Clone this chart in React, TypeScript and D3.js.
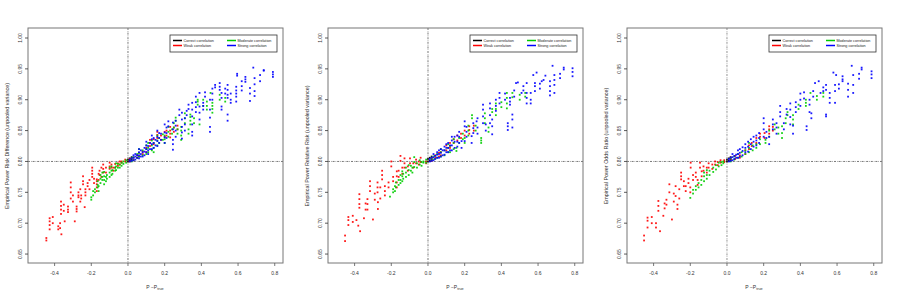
import React, { useEffect, useRef } from "react";
import * as d3 from "d3";

const xTicks = [-0.4, -0.2, 0.0, 0.2, 0.4, 0.6, 0.8];
const yTicks = [0.65, 0.7, 0.75, 0.8, 0.85, 0.9, 0.95, 1.0];

const yTitles = [
  "Empirical Power Risk Difference  (unpooled variance)",
  "Empirical Power Relative Risk  (unpooled variance)",
  "Empirical Power Odds Ratio  (unpooled variance)",
];

const legendItems = [
  { label: "Correct correlation", color: "#000000", col: 0, row: 0 },
  { label: "Weak correlation", color: "#ff0000", col: 0, row: 1 },
  { label: "Moderate correlation", color: "#00cd00", col: 1, row: 0 },
  { label: "Strong correlation", color: "#0000ff", col: 1, row: 1 },
];

// each column: [x, y1, y2, ...]
const rdCorrect = [[0, 0.8, 0.803], [0.01, 0.801, 0.805], [0.02, 0.803, 0.807]];
const rdWeak = [
  [-0.445, 0.672, 0.676], [-0.427, 0.69, 0.697, 0.703, 0.708], [-0.38, 0.69, 0.695],
  [-0.37, 0.692, 0.7], [-0.363, 0.682], [-0.365, 0.715, 0.722, 0.728, 0.735],
  [-0.345, 0.703], [-0.327, 0.718, 0.722, 0.727], [-0.312, 0.74, 0.75, 0.758, 0.766],
  [-0.29, 0.703], [-0.28, 0.719, 0.723, 0.727], [-0.27, 0.742, 0.745, 0.75],
  [-0.255, 0.74, 0.745], [-0.245, 0.763, 0.768, 0.776], [-0.236, 0.726],
  [-0.232, 0.745, 0.75, 0.755], [-0.22, 0.76, 0.765], [-0.195, 0.775, 0.78, 0.785, 0.79],
  [-0.17, 0.752, 0.758, 0.763, 0.768, 0.771], [-0.155, 0.778, 0.785],
  [-0.135, 0.782, 0.788, 0.795], [-0.1, 0.788, 0.792, 0.798], [-0.08, 0.785, 0.79],
  [-0.055, 0.793, 0.797], [-0.035, 0.798, 0.8], [-0.015, 0.8, 0.803],
  [-0.41, 0.7, 0.71], [-0.35, 0.72, 0.73], [-0.3, 0.735, 0.745], [-0.26, 0.735, 0.755],
  [-0.21, 0.755, 0.77], [-0.185, 0.765, 0.772], [-0.16, 0.77, 0.78], [-0.145, 0.775, 0.79],
  [-0.12, 0.782, 0.79], [-0.09, 0.79, 0.795], [-0.07, 0.79, 0.796], [-0.045, 0.795, 0.8],
  [0.01, 0.8, 0.804], [0.03, 0.802, 0.806], [0.05, 0.806, 0.81], [0.06, 0.808, 0.814],
  [0.08, 0.812, 0.816], [0.1, 0.815, 0.822], [0.12, 0.825, 0.83, 0.835], [0.14, 0.828, 0.836],
  [0.16, 0.838, 0.843, 0.848], [0.18, 0.835, 0.842], [0.2, 0.84, 0.848], [0.21, 0.842, 0.85],
  [0.23, 0.839, 0.845, 0.85, 0.856], [0.25, 0.848, 0.855], [0.27, 0.852, 0.858],
];
const rdModerate = [
  [-0.2, 0.738, 0.742], [-0.19, 0.745, 0.752], [-0.18, 0.75, 0.755], [-0.165, 0.758, 0.762, 0.768],
  [-0.16, 0.752, 0.76], [-0.15, 0.765, 0.772, 0.778], [-0.14, 0.77, 0.775, 0.782],
  [-0.13, 0.763, 0.77, 0.776, 0.783], [-0.12, 0.768, 0.775], [-0.115, 0.772, 0.778],
  [-0.1, 0.775, 0.782, 0.79], [-0.09, 0.778, 0.785, 0.792], [-0.085, 0.78, 0.786],
  [-0.07, 0.785, 0.79], [-0.065, 0.786, 0.792, 0.797], [-0.055, 0.79, 0.796],
  [-0.045, 0.79, 0.795], [-0.035, 0.793, 0.798], [-0.025, 0.796, 0.8], [-0.01, 0.798, 0.802],
  [0.02, 0.8, 0.805], [0.03, 0.802, 0.807], [0.05, 0.806, 0.812], [0.06, 0.808, 0.814, 0.82],
  [0.08, 0.81, 0.818], [0.1, 0.812, 0.82, 0.826], [0.11, 0.815, 0.822, 0.83],
  [0.13, 0.818, 0.826, 0.834], [0.14, 0.815, 0.822, 0.83], [0.16, 0.826, 0.834, 0.842],
  [0.17, 0.83, 0.838], [0.19, 0.835, 0.844], [0.2, 0.83, 0.836, 0.842], [0.22, 0.84, 0.848, 0.856],
  [0.24, 0.845, 0.852], [0.25, 0.855, 0.862], [0.26, 0.866, 0.871], [0.27, 0.845, 0.852],
  [0.29, 0.835, 0.842, 0.85, 0.856], [0.31, 0.862, 0.87, 0.878], [0.33, 0.845, 0.852],
  [0.34, 0.86, 0.866, 0.872, 0.876], [0.36, 0.862, 0.87], [0.38, 0.892, 0.897, 0.9],
  [0.39, 0.86], [0.41, 0.89, 0.9], [0.43, 0.884, 0.89, 0.897], [0.45, 0.911],
  [0.46, 0.879, 0.885, 0.89, 0.895], [0.5, 0.9, 0.908], [0.53, 0.897, 0.903],
];
const rdStrong = [
  [0.01, 0.8, 0.803], [0.02, 0.801, 0.805], [0.03, 0.802, 0.806, 0.81], [0.04, 0.803, 0.808, 0.812],
  [0.05, 0.806, 0.81], [0.06, 0.805, 0.81, 0.815, 0.82], [0.07, 0.808, 0.812, 0.818],
  [0.08, 0.808, 0.815], [0.09, 0.81, 0.816, 0.822], [0.1, 0.815, 0.82, 0.826, 0.832],
  [0.11, 0.812, 0.818, 0.825], [0.12, 0.82, 0.83], [0.13, 0.82, 0.828, 0.836, 0.842],
  [0.14, 0.822, 0.83, 0.838], [0.15, 0.826, 0.835], [0.16, 0.825, 0.833, 0.84, 0.85],
  [0.17, 0.83, 0.838, 0.846], [0.18, 0.835, 0.845], [0.2, 0.83, 0.839, 0.847, 0.86],
  [0.21, 0.838, 0.846, 0.855], [0.22, 0.857, 0.865], [0.245, 0.819, 0.828, 0.835, 0.852, 0.863],
  [0.26, 0.84, 0.85, 0.858, 0.866], [0.28, 0.875, 0.884], [0.294, 0.837, 0.847, 0.856, 0.868, 0.879],
  [0.31, 0.85, 0.86, 0.87], [0.32, 0.875, 0.882], [0.33, 0.885, 0.892],
  [0.35, 0.842, 0.848, 0.86, 0.873, 0.884, 0.895], [0.37, 0.88, 0.888, 0.896, 0.905],
  [0.39, 0.868, 0.879, 0.889, 0.911], [0.41, 0.884, 0.89, 0.895], [0.42, 0.905, 0.912],
  [0.447, 0.848, 0.856, 0.871, 0.884, 0.9], [0.46, 0.9, 0.91, 0.918], [0.475, 0.92, 0.924],
  [0.5, 0.916, 0.921, 0.927], [0.51, 0.884, 0.889, 0.903, 0.911], [0.53, 0.91, 0.918],
  [0.543, 0.866, 0.876, 0.903, 0.908, 0.916, 0.924], [0.56, 0.895, 0.9, 0.91],
  [0.59, 0.897, 0.905, 0.91, 0.915, 0.921], [0.595, 0.939, 0.942], [0.62, 0.915, 0.922, 0.93],
  [0.64, 0.929, 0.933, 0.937], [0.665, 0.898, 0.91, 0.919], [0.683, 0.952],
  [0.69, 0.906, 0.914, 0.925, 0.935], [0.72, 0.93, 0.94], [0.74, 0.947, 0.948],
  [0.79, 0.937, 0.941, 0.945],
];

const rrCorrect = [[0, 0.8, 0.804], [0.01, 0.801, 0.806], [0.02, 0.803, 0.808]];
const rrWeak = [
  [-0.452, 0.671, 0.68], [-0.434, 0.697, 0.705, 0.71], [-0.41, 0.702, 0.712], [-0.39, 0.705],
  [-0.38, 0.696], [-0.37, 0.687], [-0.374, 0.725, 0.731, 0.739, 0.747], [-0.349, 0.708],
  [-0.34, 0.722, 0.732], [-0.33, 0.722, 0.731, 0.739], [-0.316, 0.752, 0.76, 0.768],
  [-0.3, 0.706], [-0.29, 0.738, 0.748], [-0.275, 0.75, 0.758, 0.766], [-0.273, 0.723, 0.734],
  [-0.26, 0.74, 0.758], [-0.25, 0.771, 0.778, 0.785], [-0.235, 0.745, 0.752, 0.76],
  [-0.215, 0.758, 0.766], [-0.2, 0.792, 0.8], [-0.19, 0.768, 0.775], [-0.17, 0.758, 0.766, 0.776, 0.784],
  [-0.16, 0.775, 0.785], [-0.15, 0.801, 0.809], [-0.14, 0.78, 0.79], [-0.128, 0.79, 0.797, 0.805],
  [-0.11, 0.785, 0.792], [-0.098, 0.797, 0.805], [-0.08, 0.79, 0.797], [-0.065, 0.797, 0.803],
  [-0.05, 0.795, 0.8], [-0.04, 0.799, 0.806], [-0.01, 0.797, 0.8],
  [0.02, 0.801, 0.805], [0.04, 0.806, 0.81], [0.06, 0.808, 0.814], [0.07, 0.81, 0.815],
  [0.1, 0.818, 0.826], [0.12, 0.822, 0.83], [0.14, 0.83, 0.836], [0.16, 0.834, 0.842],
  [0.18, 0.838, 0.845], [0.2, 0.842, 0.85], [0.225, 0.845, 0.851, 0.857], [0.25, 0.85, 0.858],
];
const rrModerate = [
  [-0.207, 0.743], [-0.19, 0.75, 0.755], [-0.18, 0.752, 0.76], [-0.175, 0.758, 0.766],
  [-0.16, 0.762, 0.77], [-0.15, 0.765, 0.77, 0.778], [-0.14, 0.768, 0.776, 0.784],
  [-0.135, 0.772, 0.78], [-0.12, 0.775, 0.782, 0.79], [-0.105, 0.778, 0.786, 0.794],
  [-0.093, 0.785, 0.793], [-0.085, 0.782, 0.79], [-0.075, 0.791, 0.799, 0.807],
  [-0.06, 0.79, 0.797], [-0.045, 0.795, 0.802], [-0.035, 0.793, 0.799], [-0.025, 0.798, 0.8],
  [-0.01, 0.798, 0.803], [0.02, 0.802, 0.806], [0.035, 0.804, 0.809], [0.05, 0.806, 0.812],
  [0.07, 0.808, 0.815, 0.82], [0.09, 0.81, 0.818], [0.11, 0.815, 0.822, 0.828],
  [0.12, 0.815, 0.825], [0.14, 0.82, 0.83, 0.836], [0.155, 0.817, 0.822], [0.17, 0.83, 0.838],
  [0.19, 0.836, 0.845], [0.2, 0.83, 0.838], [0.22, 0.842, 0.85, 0.858], [0.24, 0.87, 0.875],
  [0.26, 0.85, 0.858], [0.29, 0.83, 0.834, 0.838], [0.31, 0.862, 0.87, 0.878],
  [0.33, 0.848, 0.855], [0.35, 0.88, 0.885], [0.37, 0.875, 0.885, 0.894], [0.4, 0.888, 0.896],
  [0.43, 0.886, 0.894, 0.903, 0.911], [0.46, 0.904, 0.911], [0.5, 0.9, 0.908], [0.53, 0.905, 0.911],
];
const rrStrong = [
  [0.01, 0.8, 0.804], [0.02, 0.801, 0.806], [0.03, 0.802, 0.807, 0.812], [0.04, 0.804, 0.809],
  [0.05, 0.806, 0.811, 0.815], [0.06, 0.806, 0.812, 0.818], [0.07, 0.808, 0.814, 0.82],
  [0.08, 0.81, 0.818], [0.09, 0.811, 0.818, 0.824], [0.1, 0.815, 0.822, 0.828],
  [0.11, 0.815, 0.822, 0.83], [0.12, 0.818, 0.826], [0.13, 0.818, 0.826, 0.834, 0.84],
  [0.145, 0.822, 0.832, 0.84], [0.16, 0.824, 0.832, 0.842], [0.17, 0.83, 0.84, 0.848],
  [0.183, 0.822, 0.833], [0.2, 0.833, 0.857, 0.865], [0.21, 0.84, 0.848, 0.856],
  [0.238, 0.83, 0.841], [0.247, 0.846, 0.854, 0.862], [0.265, 0.865], [0.27, 0.845, 0.855, 0.87],
  [0.3, 0.862, 0.873, 0.884, 0.892], [0.315, 0.85, 0.86], [0.338, 0.862, 0.875, 0.886, 0.894],
  [0.35, 0.844, 0.857, 0.868], [0.37, 0.882, 0.89, 0.9], [0.39, 0.894, 0.903, 0.911],
  [0.42, 0.9, 0.91], [0.435, 0.851, 0.857, 0.862], [0.447, 0.892, 0.897, 0.903],
  [0.46, 0.855, 0.868, 0.876], [0.47, 0.905, 0.915], [0.48, 0.927], [0.49, 0.928],
  [0.51, 0.911], [0.52, 0.915, 0.922], [0.538, 0.894, 0.903, 0.911, 0.927],
  [0.56, 0.894, 0.9, 0.911], [0.574, 0.94], [0.583, 0.914, 0.922, 0.927], [0.592, 0.944],
  [0.61, 0.918, 0.926], [0.62, 0.93], [0.63, 0.932], [0.64, 0.939],
  [0.665, 0.907, 0.914, 0.922, 0.93], [0.679, 0.955], [0.689, 0.911, 0.924, 0.932, 0.94],
  [0.72, 0.935, 0.942], [0.74, 0.949, 0.952], [0.788, 0.938, 0.945, 0.951],
];

const orCorrect = [[0, 0.8, 0.803], [0.01, 0.801, 0.805], [0.02, 0.803, 0.807]];
const orWeak = [
  [-0.452, 0.672, 0.68], [-0.433, 0.693, 0.704, 0.709], [-0.41, 0.7, 0.71], [-0.387, 0.693, 0.7],
  [-0.374, 0.72, 0.728, 0.736], [-0.365, 0.687], [-0.347, 0.712], [-0.34, 0.724, 0.732],
  [-0.33, 0.73, 0.738], [-0.314, 0.75, 0.763], [-0.3, 0.706], [-0.29, 0.735, 0.748],
  [-0.28, 0.744, 0.76], [-0.27, 0.723, 0.73], [-0.26, 0.74, 0.755], [-0.25, 0.771, 0.776, 0.782],
  [-0.235, 0.76, 0.768], [-0.225, 0.752, 0.76], [-0.21, 0.765, 0.772], [-0.2, 0.75, 0.758],
  [-0.198, 0.79, 0.798], [-0.185, 0.77, 0.778], [-0.17, 0.775, 0.782], [-0.16, 0.762, 0.77],
  [-0.147, 0.79, 0.798], [-0.138, 0.776, 0.784], [-0.128, 0.785, 0.792], [-0.11, 0.782, 0.79],
  [-0.1, 0.79, 0.797], [-0.08, 0.788, 0.795], [-0.065, 0.795, 0.8], [-0.05, 0.794, 0.799],
  [-0.035, 0.798, 0.802], [-0.015, 0.799, 0.802], [0.02, 0.802, 0.806], [0.045, 0.804, 0.809],
  [0.07, 0.806, 0.81], [0.1, 0.812, 0.818], [0.12, 0.82, 0.826], [0.135, 0.825, 0.83],
  [0.16, 0.83, 0.838], [0.18, 0.84, 0.845], [0.205, 0.838, 0.846], [0.23, 0.845, 0.852, 0.857],
  [0.25, 0.85, 0.856],
];
const orModerate = [
  [-0.2, 0.741], [-0.185, 0.748, 0.754], [-0.17, 0.754, 0.76], [-0.155, 0.758, 0.765],
  [-0.14, 0.762, 0.77], [-0.125, 0.768, 0.776, 0.782], [-0.11, 0.772, 0.778, 0.786],
  [-0.095, 0.778, 0.785], [-0.075, 0.783, 0.79], [-0.06, 0.787, 0.794], [-0.045, 0.792, 0.798],
  [-0.03, 0.794, 0.799], [-0.02, 0.797, 0.8], [0.02, 0.8, 0.805], [0.04, 0.803, 0.808],
  [0.06, 0.806, 0.812], [0.08, 0.808, 0.815], [0.1, 0.812, 0.818], [0.12, 0.815, 0.822, 0.83],
  [0.14, 0.818, 0.826], [0.16, 0.822, 0.828], [0.18, 0.828, 0.836], [0.21, 0.83, 0.835],
  [0.23, 0.84, 0.85], [0.26, 0.852, 0.86], [0.28, 0.845, 0.855], [0.3, 0.838, 0.846, 0.857],
  [0.32, 0.862, 0.87], [0.33, 0.875, 0.88], [0.36, 0.86, 0.868, 0.875], [0.39, 0.885, 0.892],
  [0.43, 0.89, 0.895, 0.9], [0.455, 0.911], [0.49, 0.9, 0.906], [0.525, 0.905, 0.911],
];
const orStrong = [
  [0.01, 0.8, 0.804], [0.02, 0.801, 0.806], [0.03, 0.802, 0.807, 0.812], [0.04, 0.804, 0.809],
  [0.05, 0.806, 0.811], [0.06, 0.806, 0.812, 0.818], [0.07, 0.808, 0.814, 0.82],
  [0.085, 0.81, 0.817, 0.823], [0.1, 0.815, 0.822, 0.828], [0.115, 0.816, 0.824, 0.832],
  [0.13, 0.82, 0.828, 0.836], [0.145, 0.824, 0.832, 0.84], [0.16, 0.826, 0.834, 0.842],
  [0.175, 0.83, 0.838, 0.846], [0.2, 0.84, 0.852, 0.862, 0.87], [0.215, 0.838, 0.848],
  [0.23, 0.828, 0.84], [0.25, 0.852, 0.86, 0.868], [0.27, 0.845, 0.855, 0.862],
  [0.29, 0.873, 0.88, 0.89], [0.31, 0.852, 0.862], [0.325, 0.876, 0.885],
  [0.345, 0.86, 0.872, 0.884, 0.894], [0.36, 0.845, 0.858], [0.375, 0.88, 0.888, 0.896],
  [0.4, 0.89, 0.9, 0.91], [0.42, 0.902, 0.912], [0.434, 0.851, 0.857], [0.45, 0.88, 0.892, 0.9],
  [0.46, 0.87, 0.878], [0.47, 0.905, 0.914], [0.48, 0.927], [0.5, 0.93], [0.51, 0.911],
  [0.525, 0.914, 0.92], [0.54, 0.873, 0.876, 0.916, 0.924], [0.56, 0.895, 0.903, 0.911],
  [0.58, 0.944], [0.589, 0.895, 0.914, 0.924], [0.595, 0.94], [0.61, 0.918, 0.925],
  [0.63, 0.93, 0.933, 0.938], [0.66, 0.905, 0.916, 0.926], [0.68, 0.955],
  [0.688, 0.911, 0.924, 0.94], [0.72, 0.934, 0.942], [0.734, 0.949, 0.952],
  [0.788, 0.935, 0.941, 0.946],
];

const panels = [
  { series: [rdCorrect, rdWeak, rdModerate, rdStrong], vColor: "#555", vWidth: 0.8 },
  { series: [rrCorrect, rrWeak, rrModerate, rrStrong], vColor: "#bbb", vWidth: 2 },
  { series: [orCorrect, orWeak, orModerate, orStrong], vColor: "#777", vWidth: 0.8 },
];
const seriesColors = ["#000000", "#ff0000", "#00cd00", "#0000ff"];

const offsets = [0, 300, 599];
const font = "'Liberation Sans', Arial, sans-serif";

const App = () => {
  const svgRef = useRef();

  useEffect(() => {
    const svg = d3.select(svgRef.current);
    svg.selectAll("*").remove();

    const x = d3.scaleLinear().domain([-0.545, 0.845]).range([28, 283]);
    const y = d3.scaleLinear().domain([0.6355, 1.0162]).range([263, 28]);

    panels.forEach((p, i) => {
      const g = svg.append("g").attr("transform", `translate(${offsets[i]},0)`);

      // reference lines
      g.append("line")
        .attr("x1", x(0)).attr("x2", x(0)).attr("y1", 28).attr("y2", 263)
        .attr("stroke", p.vColor).attr("stroke-width", p.vWidth)
        .attr("stroke-dasharray", "2,1,0.6,1");
      g.append("line")
        .attr("x1", 28).attr("x2", 283).attr("y1", y(0.8)).attr("y2", y(0.8))
        .attr("stroke", "#555").attr("stroke-width", 0.8)
        .attr("stroke-dasharray", "2,1,0.6,1");

      // points
      p.series.forEach((cols, s) => {
        const pts = cols.flatMap((c) => c.slice(1).map((v) => [c[0], v]));
        g.append("g")
          .selectAll("rect")
          .data(pts)
          .enter()
          .append("rect")
          .attr("x", (d) => x(d[0]) - 0.9)
          .attr("y", (d) => y(d[1]) - 0.9)
          .attr("width", 1.8)
          .attr("height", 1.8)
          .attr("fill", seriesColors[s])
          .attr("fill-opacity", 0.9);
      });

      // box
      g.append("rect")
        .attr("x", 28).attr("y", 28).attr("width", 255).attr("height", 235)
        .attr("fill", "none").attr("stroke", "#777").attr("stroke-width", 1);

      // x axis
      xTicks.forEach((t) => {
        g.append("line")
          .attr("x1", x(t)).attr("x2", x(t)).attr("y1", 263).attr("y2", 266)
          .attr("stroke", "#555").attr("stroke-width", 0.8);
        g.append("text")
          .attr("x", x(t)).attr("y", 275)
          .attr("text-anchor", "middle")
          .style("font-family", font).style("font-size", "5px").attr("fill", "#333")
          .text(t.toFixed(1));
      });

      // y axis
      yTicks.forEach((t) => {
        g.append("line")
          .attr("x1", 25).attr("x2", 28).attr("y1", y(t)).attr("y2", y(t))
          .attr("stroke", "#333").attr("stroke-width", 0.8);
        g.append("text")
          .attr("transform", `translate(21.5,${y(t)}) rotate(-90)`)
          .attr("text-anchor", "middle")
          .style("font-family", font).style("font-size", "5px").attr("fill", "#333")
          .text(t.toFixed(2));
      });

      // axis titles
      g.append("text")
        .attr("transform", `translate(9,146) rotate(-90)`)
        .attr("text-anchor", "middle")
        .style("font-family", font).style("font-size", "5.4px").attr("fill", "#333")
        .text(yTitles[i]);

      const xl = g.append("text")
        .attr("x", 155).attr("y", 289)
        .attr("text-anchor", "middle")
        .style("font-family", font).style("font-size", "5px").attr("fill", "#333");
      xl.append("tspan").text("P \u2212P");
      xl.append("tspan").attr("dy", 1.2).style("font-size", "3.8px").text("true");

      // legend
      const lg = g.append("g");
      lg.append("rect")
        .attr("x", 170).attr("y", 35).attr("width", 107).attr("height", 17)
        .attr("fill", "white").attr("stroke", "#333").attr("stroke-width", 0.8);
      legendItems.forEach((it) => {
        const lx = it.col === 0 ? 173 : 227;
        const ly = 40.5 + it.row * 5;
        lg.append("line")
          .attr("x1", lx).attr("x2", lx + 9).attr("y1", ly).attr("y2", ly)
          .attr("stroke", it.color).attr("stroke-width", 1.5);
        lg.append("text")
          .attr("x", lx + 10.5).attr("y", ly + 1.3)
          .style("font-family", font).style("font-size", "3.7px").attr("fill", "#222")
          .text(it.label);
      });
    });
  }, []);

  return (
    <svg
      ref={svgRef}
      width={897}
      height={299}
      style={{ position: "absolute", left: 0, top: 0, background: "white" }}
    ></svg>
  );
};

export default App;
